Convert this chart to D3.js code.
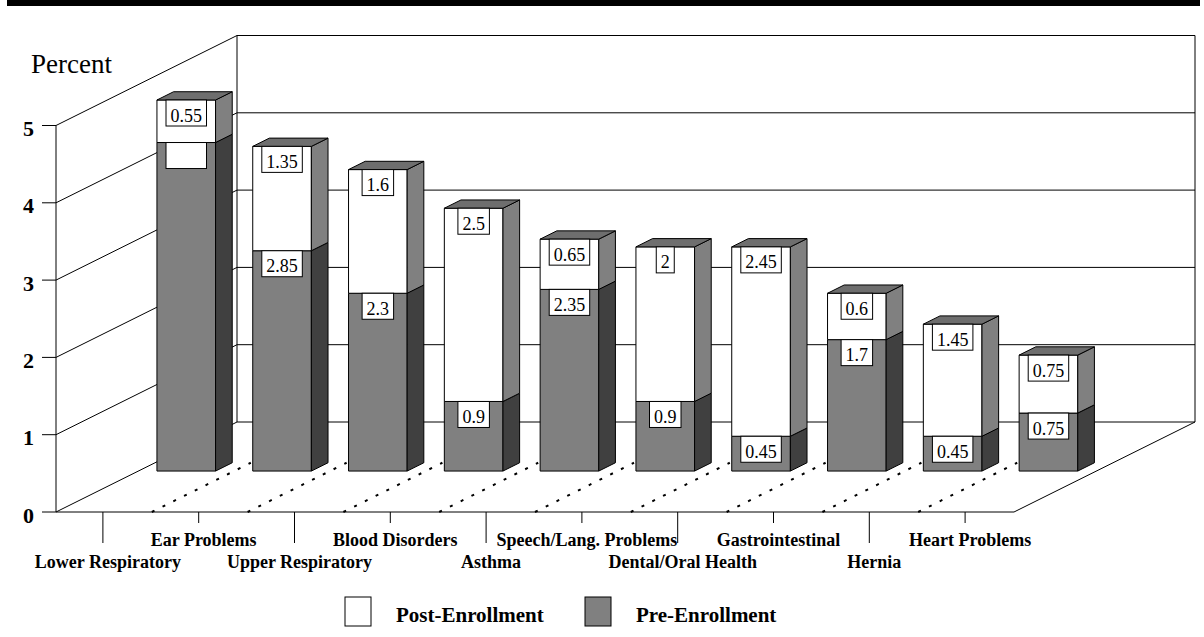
<!DOCTYPE html>
<html>
<head>
<meta charset="utf-8">
<script src="https://cdn.jsdelivr.net/npm/d3@7"></script>
<style>
  body { margin: 0; background: #fff; }
  svg { display: block; }
  text { font-family: "Liberation Serif", "Times New Roman", Times, serif; }
</style>
</head>
<body>
<svg id="chart" width="1204" height="637"></svg>
<script>
// Health conditions, percent of children, before and after enrollment
const categories = [
  "Lower Respiratory", "Ear Problems", "Upper Respiratory", "Blood Disorders", "Asthma",
  "Speech/Lang. Problems", "Dental/Oral Health", "Gastrointestinal", "Hernia", "Heart Problems"
];
const preEnrollment  = [4.25, 2.85, 2.3, 0.9, 2.35, 0.9, 0.45, 1.7, 0.45, 0.75];
const postEnrollment = [0.55, 1.35, 1.6, 2.5, 0.65, 2, 2.45, 0.6, 1.45, 0.75];
// categories whose pre-enrollment value box is printed without its number
const blankPreLabels = ["Lower Respiratory"];
const yTicks = [0, 1, 2, 3, 4, 5];
const seriesNames = ["Post-Enrollment", "Pre-Enrollment"];

const svg = d3.select("#chart");

// oblique 3D frame
const X0 = 56, FLOOR_Y = 512, FLOOR_W = 958;
const DEPTH_X = 181, DEPTH_Y = 90;
const xBand = d3.scaleBand().domain(categories).range([0, FLOOR_W]);
const yVal = d3.scaleLinear().domain([0, 5]).range([0, 386.5]);
const proj = (xu, v, z) => [X0 + xu + z * DEPTH_X, FLOOR_Y - yVal(v) - z * DEPTH_Y];

const BAR_Z0 = 0.455, BAR_Z1 = 0.547;
const barW = xBand.bandwidth() * 0.612;

const colors = {
  post: { front: "#ffffff", side: "#808080", top: "#6e6e6e" },
  pre:  { front: "#808080", side: "#404040", top: "#404040" }
};

// banner rule at the top
svg.append("rect").attr("x", 7).attr("y", 0).attr("width", 1193).attr("height", 6).attr("fill", "#000");

const frame = svg.append("g").attr("fill", "none").attr("stroke", "#000").attr("stroke-width", 1);
const seg = (a, b) => frame.append("line")
  .attr("x1", a[0]).attr("y1", a[1]).attr("x2", b[0]).attr("y2", b[1]);

// left wall: diagonals at every tick, front and back uprights
yTicks.forEach(v => seg(proj(0, v, 0), proj(0, v, 1)));
seg(proj(0, 0, 0), proj(0, 5, 0));
seg(proj(0, 0, 1), proj(0, 5, 1));
// back wall gridlines and right edge
yTicks.forEach(v => seg(proj(0, v, 1), proj(FLOOR_W, v, 1)));
seg(proj(FLOOR_W, 0, 1), proj(FLOOR_W, 5, 1));
// floor edges
seg(proj(0, 0, 0), proj(FLOOR_W, 0, 0));
seg(proj(FLOOR_W, 0, 0), proj(FLOOR_W, 0, 1));

// value axis ticks and labels
yTicks.forEach(v => {
  const p = proj(0, v, 0);
  seg([p[0] - 14, p[1]], p);
  svg.append("text").attr("x", 34).attr("y", p[1] + 10.5)
    .attr("text-anchor", "end").attr("font-size", 22).attr("font-weight", "bold")
    .text(v);
});
svg.append("text").attr("x", 31).attr("y", 73).attr("font-size", 27).text("Percent");

// dotted floor dividers between categories
const dots = svg.append("g").attr("stroke", "#000").attr("stroke-width", 2)
  .attr("stroke-dasharray", "3,9").attr("fill", "none");
categories.slice(1).forEach(c => {
  const a = proj(xBand(c), 0, 0), b = proj(xBand(c), 0, BAR_Z1);
  dots.append("line").attr("x1", a[0]).attr("y1", a[1]).attr("x2", b[0]).attr("y2", b[1]);
});

// category ticks and staggered labels
categories.forEach((c, i) => {
  const cx = X0 + xBand(c) + xBand.bandwidth() / 2 - 1;
  const lower = i % 2 === 0;
  frame.append("line").attr("x1", cx).attr("y1", FLOOR_Y).attr("x2", cx)
    .attr("y2", FLOOR_Y + (lower ? 31 : 11));
  svg.append("text").attr("x", cx + 5).attr("y", lower ? 568 : 545.5)
    .attr("text-anchor", "middle").attr("font-size", 18).attr("font-weight", "bold")
    .text(c);
});

// stacked 3D bars
const poly = pts => pts.map(p => p.join(",")).join(" ");
const bars = svg.append("g").attr("stroke", "#000").attr("stroke-width", 1).attr("stroke-linejoin", "round");
const labels = svg.append("g");

const ctx = document.createElement("canvas").getContext("2d");
ctx.font = "18px 'Liberation Serif'";

categories.forEach((c, i) => {
  const xl = xBand(c) + (xBand.bandwidth() - barW) / 2;
  const xr = xl + barW;
  const pieces = [
    { key: "pre", v0: 0, v1: preEnrollment[i], value: preEnrollment[i] },
    { key: "post", v0: preEnrollment[i], v1: preEnrollment[i] + postEnrollment[i], value: postEnrollment[i] }
  ];
  pieces.forEach(p => {
    const col = colors[p.key];
    bars.append("polygon").attr("fill", col.front)
      .attr("points", poly([proj(xl, p.v0, BAR_Z0), proj(xr, p.v0, BAR_Z0), proj(xr, p.v1, BAR_Z0), proj(xl, p.v1, BAR_Z0)]));
    bars.append("polygon").attr("fill", col.side)
      .attr("points", poly([proj(xr, p.v0, BAR_Z0), proj(xr, p.v0, BAR_Z1), proj(xr, p.v1, BAR_Z1), proj(xr, p.v1, BAR_Z0)]));
  });
  const top = pieces[1];
  bars.append("polygon").attr("fill", colors.post.top)
    .attr("points", poly([proj(xl, top.v1, BAR_Z0), proj(xr, top.v1, BAR_Z0), proj(xr, top.v1, BAR_Z1), proj(xl, top.v1, BAR_Z1)]));

  // value boxes at the top of each segment
  pieces.forEach(p => {
    const txt = String(p.value);
    const w = ctx.measureText(txt).width + 9;
    const [cx] = proj((xl + xr) / 2, 0, BAR_Z0);
    const yTop = proj(xl, p.v1, BAR_Z0)[1];
    labels.append("rect").attr("x", cx - w / 2).attr("y", yTop).attr("width", w).attr("height", 26)
      .attr("fill", "#fff").attr("stroke", "#000").attr("stroke-width", 1);
    if (!(p.key === "pre" && blankPreLabels.includes(c))) {
      labels.append("text").attr("x", cx).attr("y", yTop + 21.5).attr("text-anchor", "middle")
        .attr("font-size", 18).text(txt);
    }
  });
});

// legend
const legend = svg.append("g");
[{ x: 345, fill: "#ffffff" }, { x: 585, fill: "#808080" }].forEach((d, i) => {
  legend.append("rect").attr("x", d.x).attr("y", 597).attr("width", 26).attr("height", 29)
    .attr("fill", d.fill).attr("stroke", "#000").attr("stroke-width", 1);
  legend.append("text").attr("x", d.x + 51).attr("y", 621.5).attr("font-size", 21)
    .attr("font-weight", "bold").text(seriesNames[i]);
});
</script>
</body>
</html>
